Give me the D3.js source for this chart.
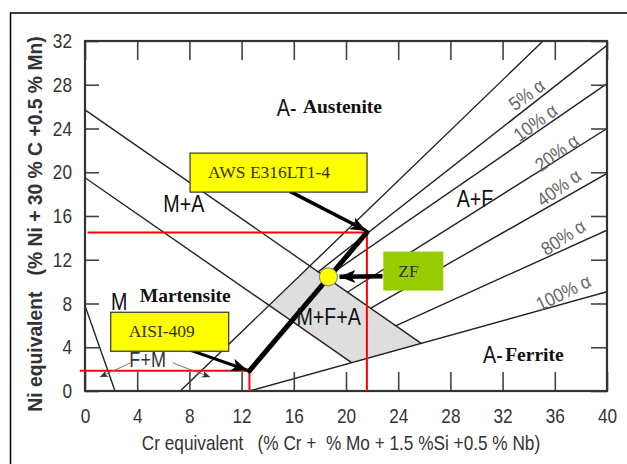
<!DOCTYPE html>
<html>
<head>
<meta charset="utf-8">
<script src="https://cdn.jsdelivr.net/npm/d3@7"></script>
<style>
    html, body { margin: 0; padding: 0; background: #fff; }
    svg { display: block; }
    text { font-family: 'Liberation Sans', Arial, sans-serif; }
    .serif { font-family: 'Liberation Serif', 'Times New Roman', serif; }
</style>
</head>
<body>
<div id="chart"></div>
<script>
// Schaeffler diagram: axes and boundaries (Cr eq, Ni eq)
const xTicks = [0, 4, 8, 12, 16, 20, 24, 28, 32, 36, 40];
const yTicks = [0, 4, 8, 12, 16, 20, 24, 28, 32];

const martensiteUpper = [[0, 25.7], [25.76, 4.36]];
const martensiteLower = [[0, 19.5], [20.43, 2.59]];
const martensiteCorner = [[0, 7.8], [2.3, 0]];
const austeniteLine = [[7.3, 0], [35.1, 32]];
const ferriteLine = [[12.6, 0], [40, 9.07]];

const ferriteLevels = ['5%', '10%', '20%', '40%', '80%', '100%'];
const ferriteStarts = [[17.84, 10.87], [18.45, 10.37], [20.1, 9.03], [21.9, 7.58], [23.8, 5.96]];
const ferriteEnds = [[40, 31.6], [40, 28.1], [40, 24.0], [40, 19.9], [40, 14.7]];

const mfaRegion = [[17.23, 11.42], [25.76, 4.36], [20.43, 2.59], [14.1, 7.83]];

const weldNames = ['AISI-409', 'ZF', 'AWS E316LT1-4'];
const weldCr = [12.6, 18.65, 21.6];
const weldNi = [1.85, 10.44, 14.5];

const width = 627;
const height = 464;
const narrow = 0.82; // reference uses a condensed sans face

const svg = d3.select('#chart')
    .append('svg')
    .attr('width', width)
    .attr('height', height);

const x = d3.scaleLinear().domain([0, 40]).range([85, 607]);
const y = d3.scaleLinear().domain([0, 32]).range([391, 41]);
const line = d3.line().x((d) => x(d[0])).y((d) => y(d[1]));

// outer frame of the figure
svg.append('rect')
    .attr('x', 10.5).attr('y', 13)
    .attr('width', 640).attr('height', 480)
    .attr('fill', 'none').attr('stroke', '#000').attr('stroke-width', 1.5);

const defs = svg.append('defs');
defs.append('clipPath').attr('id', 'plot')
    .append('rect')
    .attr('x', x(0)).attr('y', y(32))
    .attr('width', x(40) - x(0)).attr('height', y(0) - y(32));

function addArrowMarker(id, w, h, color) {
    defs.append('marker')
        .attr('id', id)
        .attr('markerUnits', 'userSpaceOnUse')
        .attr('viewBox', `0 0 ${w} ${h}`)
        .attr('refX', w).attr('refY', h / 2)
        .attr('markerWidth', w).attr('markerHeight', h)
        .attr('orient', 'auto')
        .append('path')
        .attr('d', `M0,0 L${w},${h / 2} L0,${h} L${w * 0.25},${h / 2} Z`)
        .attr('fill', color);
}
addArrowMarker('arrowBig', 16, 13, '#000');
addArrowMarker('arrowSmall', 8, 7, '#333');

const plot = svg.append('g').attr('clip-path', 'url(#plot)');

// M+F+A region
plot.append('path')
    .attr('d', line(mfaRegion) + 'Z')
    .attr('fill', '#dedede');

const boundaries = [martensiteUpper, martensiteLower, martensiteCorner, austeniteLine, ferriteLine]
    .concat(ferriteStarts.map((s, i) => [s, ferriteEnds[i]]));

plot.selectAll('path.boundary')
    .data(boundaries)
    .enter()
    .append('path')
    .attr('class', 'boundary')
    .attr('d', line)
    .attr('fill', 'none')
    .attr('stroke', '#222')
    .attr('stroke-width', 1.4);

// axes: ticks point inward on all four sides
const axisStyle = (g) => {
    g.select('.domain').remove();
    g.selectAll('.tick line').attr('stroke', '#444').attr('stroke-width', 1.6);
    g.selectAll('.tick text')
        .attr('fill', '#333')
        .attr('font-size', 21)
        .attr('font-family', "'Liberation Sans', Arial, sans-serif")
        .attr('transform', `scale(${narrow},1)`);
};

svg.append('g')
    .attr('transform', `translate(0,${y(0)})`)
    .call(d3.axisBottom(x).tickValues(xTicks).tickSizeInner(-19).tickSizeOuter(0).tickPadding(17))
    .call(axisStyle);

svg.append('g')
    .attr('transform', `translate(0,${y(32)})`)
    .call(d3.axisTop(x).tickValues(xTicks).tickSizeInner(-19).tickSizeOuter(0).tickFormat(''))
    .call(axisStyle);

svg.append('g')
    .attr('transform', `translate(${x(0)},0)`)
    .call(d3.axisLeft(y).tickValues(yTicks).tickSizeInner(-14).tickSizeOuter(0).tickPadding(13 / narrow))
    .call(axisStyle);

svg.append('g')
    .attr('transform', `translate(${x(40)},0)`)
    .call(d3.axisRight(y).tickValues(yTicks).tickSizeInner(-16).tickSizeOuter(0).tickFormat(''))
    .call(axisStyle);

svg.append('rect')
    .attr('x', x(0)).attr('y', y(32))
    .attr('width', x(40) - x(0)).attr('height', y(0) - y(32))
    .attr('fill', 'none').attr('stroke', '#333').attr('stroke-width', 2.2);

// red guide lines to the two consumables
const guides = svg.append('g').attr('stroke', '#ff0000').attr('stroke-width', 2).attr('fill', 'none');
guides.append('path').attr('d', line([[-0.4, weldNi[0]], [weldCr[0], weldNi[0]], [weldCr[0], 0]]));
guides.append('path').attr('d', line([[0.2, weldNi[2]], [weldCr[2], weldNi[2]], [weldCr[2], 0]]));

// dilution line between base metal and filler
svg.append('path')
    .attr('d', line([[weldCr[0], weldNi[0]], [weldCr[2], weldNi[2]]]))
    .attr('stroke', '#000').attr('stroke-width', 5).attr('stroke-linecap', 'round');

// ferrite percentage labels
const levelPos = [[33.85, 27.1], [34.5, 24.55], [36.15, 21.8], [36.3, 18.6], [36.65, 14.05], [36.65, 9.0]];
const levelAngle = [-36, -36, -36, -36, -33, -26];
svg.selectAll('text.level')
    .data(ferriteLevels)
    .enter()
    .append('text')
    .attr('class', 'level')
    .attr('transform', (d, i) => `translate(${x(levelPos[i][0])},${y(levelPos[i][1])}) rotate(${levelAngle[i]}) scale(0.9,1)`)
    .attr('text-anchor', 'middle')
    .attr('dy', '0.35em')
    .attr('font-size', 19)
    .attr('fill', '#666')
    .text((d) => `${d} α`);

// phase labels, condensed sans
function phase(text, cx, cy, size, fill) {
    return svg.append('text')
        .attr('transform', `translate(${x(cx)},${y(cy)}) scale(${narrow},1)`)
        .attr('font-size', size)
        .attr('fill', fill || '#111')
        .text(text);
}
function serifLabel(text, cx, cy, size) {
    return svg.append('text')
        .attr('class', 'serif')
        .attr('x', x(cx)).attr('y', y(cy))
        .attr('font-size', size)
        .attr('font-weight', 'bold')
        .attr('fill', '#111')
        .text(text);
}
phase('M+A', 6.0, 16.4, 24);
phase('A+F', 28.48, 16.8, 24);
phase('M+F+A', 16.2, 6.0, 24);
phase('M', 2.0, 7.4, 24);
phase('F+M', 3.4, 2.2, 22, '#333');

phase('A-', 14.7, 25.1, 24);
serifLabel('Austenite', 16.7, 25.4, 19.5);
phase('A-', 30.5, 2.55, 24);
serifLabel('Ferrite', 32.2, 2.7, 19.5);
serifLabel('Martensite', 4.2, 8.15, 19.5);

// F+M pointers
const fmPointers = [[[3.45, 2.56], [1.15, 1.28]], [[6.74, 2.56], [9.58, 1.28]]];
svg.selectAll('path.pointer')
    .data(fmPointers)
    .enter()
    .append('path')
    .attr('class', 'pointer')
    .attr('d', line)
    .attr('stroke', '#777').attr('stroke-width', 1)
    .attr('marker-end', 'url(#arrowSmall)');

// axis titles
svg.append('text')
    .attr('transform', `translate(341,450) scale(${narrow},1)`)
    .attr('text-anchor', 'middle')
    .attr('font-size', 21)
    .attr('fill', '#333')
    .style('white-space', 'pre')
    .text('Cr equivalent   (% Cr +  % Mo + 1.5 %Si +0.5 % Nb)');

svg.append('text')
    .attr('transform', 'translate(42,224) rotate(-90) scale(0.92,1)')
    .attr('text-anchor', 'middle')
    .attr('font-size', 21)
    .attr('font-weight', 'bold')
    .attr('fill', '#333')
    .style('white-space', 'pre')
    .text('Ni equivalent   (% Ni + 30 % C +0.5 % Mn)');

// call-out arrows
const callouts = [
    { from: [8.05, 3.73], to: [weldCr[0] - 0.15, weldNi[0] + 0.05], w: 3 },
    { from: [22.8, 10.5], to: [weldCr[1] + 0.85, weldNi[1]], w: 4.5 },
    { from: [15.7, 18.25], to: [weldCr[2] - 0.05, weldNi[2] + 0.15], w: 3.5 }
];
svg.selectAll('path.callout')
    .data(callouts)
    .enter()
    .append('path')
    .attr('class', 'callout')
    .attr('d', (d) => line([d.from, d.to]))
    .attr('stroke', '#000')
    .attr('stroke-width', (d) => d.w)
    .attr('marker-end', 'url(#arrowBig)');

// label boxes
const boxes = [
    { name: weldNames[0], corner: [1.97, 7.2], w: 118, h: 39, fill: '#ffff00', stroke: '#333', tx: 18 },
    { name: weldNames[1], corner: [22.86, 12.75], w: 60, h: 39, fill: '#99cc00', stroke: 'none', tx: 15 },
    { name: weldNames[2], corner: [8.05, 21.75], w: 177, h: 39, fill: '#ffff00', stroke: '#333', tx: 18 }
];
const boxG = svg.selectAll('g.box')
    .data(boxes)
    .enter()
    .append('g')
    .attr('class', 'box')
    .attr('transform', (d) => `translate(${x(d.corner[0])},${y(d.corner[1])})`);
boxG.append('rect')
    .attr('width', (d) => d.w).attr('height', (d) => d.h)
    .attr('fill', (d) => d.fill)
    .attr('stroke', (d) => d.stroke).attr('stroke-width', 1.2);
boxG.append('text')
    .attr('class', 'serif')
    .attr('x', (d) => d.tx).attr('y', 25)
    .attr('font-size', 17.5)
    .attr('fill', '#333300')
    .text((d) => d.name);

// fusion zone point
svg.append('circle')
    .attr('cx', x(weldCr[1])).attr('cy', y(weldNi[1]))
    .attr('r', 9)
    .attr('fill', '#ffff00')
    .attr('stroke', '#777').attr('stroke-width', 1);
</script>
</body>
</html>
